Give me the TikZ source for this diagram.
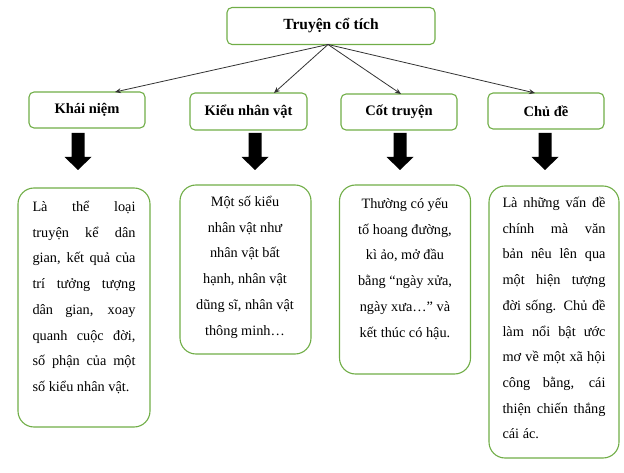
\documentclass[tikz,border=0pt]{standalone}
\usepackage{fontspec}
\setmainfont{Liberation Serif}
\usetikzlibrary{arrows.meta,calc}
\definecolor{gr}{HTML}{70AD47}
\tikzset{
 hbox/.style={draw=gr,line width=1.1pt,rounded corners=5pt,font=\bfseries\fontsize{14.5}{16}\selectfont},
 tbox/.style={draw=gr,line width=1.1pt,rounded corners=16pt},
 txt/.style={anchor=north,inner sep=0pt,font=\fontsize{14.3}{25.7}\selectfont},
 conn/.style={draw=black!80,line width=0.8pt,-{Stealth[length=6pt,width=5pt]}},
 big/.style={fill=black}
}
\newcommand{\jl}[1]{\makebox[103pt][s]{#1}}
\begin{document}
\begin{tikzpicture}[x=1pt,y=-1pt]
\useasboundingbox (0,0) rectangle (624,473);
\node[hbox,minimum width=208pt,minimum height=37pt,font=\bfseries\fontsize{15.5}{17}\selectfont] (top) at (331,26) {Truyện cổ tích};
\node[hbox,minimum width=116pt,minimum height=36pt] (k1) at (87,110) {Khái niệm};
\node[hbox,minimum width=117pt,minimum height=37pt] (k2) at (248.5,111.5) {Kiểu nhân vật};
\node[hbox,minimum width=116pt,minimum height=36pt] (k3) at (399,112) {Cốt truyện};
\node[hbox,minimum width=116pt,minimum height=36pt] (k4) at (546,111) {Chủ đề};
\coordinate (apex) at (328,44.5);
\coordinate (e1) at (115,92);
\coordinate (e2) at (274,93);
\coordinate (e3) at (401,94);
\coordinate (e4) at (535,93);
\foreach \e in {e1,e2,e3,e4} \draw[conn] (apex) -- (\e);
\foreach \cx in {78,255,400,545}
  \fill[big] (\cx-6.5,133) -- (\cx+6.5,133) -- (\cx+6.5,157) -- (\cx+13.5,157) -- (\cx,170) -- (\cx-13.5,157) -- (\cx-6.5,157) -- cycle;
\node[tbox,minimum width=132pt,minimum height=239pt] (b1) at (84,307.5) {};
\node[tbox,minimum width=131pt,minimum height=169pt] (b2) at (245.5,269.5) {};
\node[tbox,minimum width=131pt,minimum height=189pt] (b3) at (405,279.5) {};
\node[tbox,minimum width=130pt,minimum height=272pt] (b4) at (554,322) {};
\node[txt,align=left] (t1) at (84,201) {\jl{Là thể loại}\\\jl{truyện kể dân}\\\jl{gian, kết quả của}\\\jl{trí tưởng tượng}\\\jl{dân gian, xoay}\\\jl{quanh cuộc đời,}\\\jl{số phận của một}\\số kiểu nhân vật.};
\node[txt,align=center] (t2) at (245,196) {Một số kiểu\\nhân vật như\\nhân vật bất\\hạnh, nhân vật\\dũng sĩ, nhân vật\\thông minh…};
\node[txt,align=center] (t3) at (405,198) {Thường có yếu\\tố hoang đường,\\kì ảo, mở đầu\\bằng “ngày xửa,\\ngày xưa…” và\\kết thúc có hậu.};
\node[txt,align=left] (t4) at (554,197) {\jl{Là những vấn đề}\\\jl{chính mà văn}\\\jl{bản nêu lên qua}\\\jl{một hiện tượng}\\\jl{đời sống. Chủ đề}\\\jl{làm nổi bật ước}\\\jl{mơ về một xã hội}\\\jl{công bằng, cái}\\\jl{thiện chiến thắng}\\cái ác.};
\end{tikzpicture}
\end{document}
